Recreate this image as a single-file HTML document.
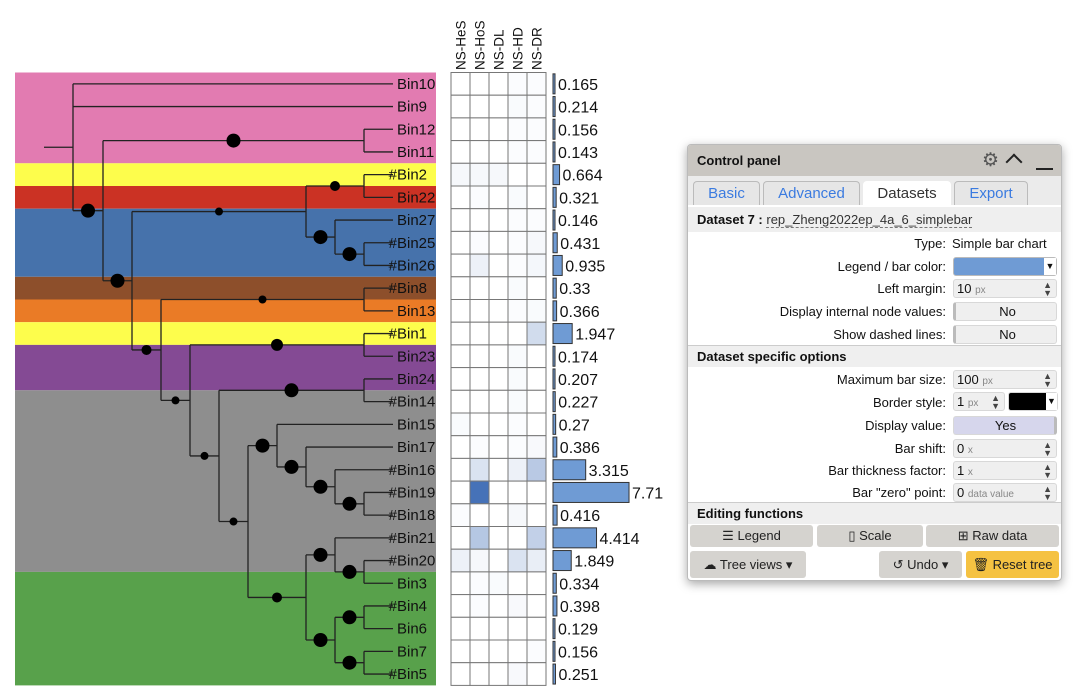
<!DOCTYPE html>
<html><head><meta charset="utf-8">
<style>
body{margin:0;width:1080px;height:696px;background:#fff;position:relative;overflow:hidden;font-family:"Liberation Sans",Arial,sans-serif}
#cp{position:absolute;left:687px;top:144px;width:373px;height:435px;background:#fff;border:1px solid #bbb;border-radius:4px;box-shadow:0 3px 10px rgba(0,0,0,.35);overflow:hidden;font-size:13px;color:#111}
.abs{position:absolute}
.lbl{position:absolute;right:115px;text-align:right;white-space:nowrap}
.ctl{position:absolute;left:265px;width:104px;height:19px;background:#efefef;border:1px solid #d8d8d8;border-radius:3px;box-sizing:border-box;font-size:13px;line-height:17px;padding-left:3px}
.unit{color:#888;font-size:10px}
.spin{position:absolute;right:4px;top:1px;font-size:9px;line-height:8px;color:#444}
.sec{position:absolute;left:0;width:373px;height:22px;background:#efefef;font-weight:bold;font-size:13px;line-height:22px;padding-left:9px;box-sizing:border-box;border-top:1px solid #ccc}
.tab{position:absolute;top:36px;height:24px;border:1px solid #bbb;border-bottom:none;border-radius:4px 4px 0 0;background:#e6e6e6;color:#3b7be0;font-size:15px;line-height:24px;text-align:center;box-sizing:border-box}
.btn{position:absolute;background:#d5d3cf;border-radius:3px;text-align:center;font-size:13px;line-height:22px;color:#222}
</style></head><body>
<svg id="chart" width="680" height="696" style="position:absolute;left:0;top:0" font-family="Liberation Sans, Arial, sans-serif"></svg>

<div id="cp">
 <div class="abs" style="left:0;top:0;width:373px;height:31px;background:#c9c6c1"></div>
 <div class="abs" style="left:9px;top:8px;font-weight:bold;font-size:13px">Control panel</div>
 <div class="abs" style="left:294px;top:4px;font-size:19px;color:#555">⚙</div>
 <div class="abs" style="left:320px;top:5px;width:10px;height:10px;border-left:2px solid #222;border-top:2px solid #222;transform:translateY(6px) rotate(45deg)"></div>
 <div class="abs" style="left:348px;top:23px;width:17px;height:2px;background:#222"></div>
 <div class="abs" style="left:0;top:31px;width:373px;height:29px;background:#ebebeb"></div>
 <div class="tab" style="left:5px;width:67px">Basic</div>
 <div class="tab" style="left:75px;width:97px">Advanced</div>
 <div class="tab" style="left:175px;width:88px;background:#fff;color:#333;border-color:#fff">Datasets</div>
 <div class="tab" style="left:266px;width:74px">Export</div>
 <div class="abs" style="left:0;top:62px;width:373px;height:25px;background:#efefef;line-height:25px;padding-left:9px;box-sizing:border-box"><b>Dataset 7 :</b> <span style="color:#333;border-bottom:1px dashed #777">rep_Zheng2022ep_4a_6_simplebar</span></div>
 <div class="lbl" style="top:91px">Type:</div>
 <div class="abs" style="left:264px;top:91px">Simple bar chart</div>
 <div class="lbl" style="top:114px">Legend / bar color:</div>
 <div class="ctl" style="top:112px;background:#6f9bd4;border-color:#bbb"><span style="position:absolute;right:0;top:0;width:12px;height:17px;background:#fff;font-size:9px;text-align:center">▼</span></div>
 <div class="lbl" style="top:136px">Left margin:</div>
 <div class="ctl" style="top:134px">10 <span class="unit">px</span><span class="spin">▲<br>▼</span></div>
 <div class="lbl" style="top:159px">Display internal node values:</div>
 <div class="ctl" style="top:157px;text-align:center;border-left:3px solid #bbb">No</div>
 <div class="lbl" style="top:182px">Show dashed lines:</div>
 <div class="ctl" style="top:180px;text-align:center;border-left:3px solid #bbb">No</div>
 <div class="sec" style="top:200px">Dataset specific options</div>
 <div class="lbl" style="top:227px">Maximum bar size:</div>
 <div class="ctl" style="top:225px">100 <span class="unit">px</span><span class="spin">▲<br>▼</span></div>
 <div class="lbl" style="top:250px">Border style:</div>
 <div class="ctl" style="top:247px;width:52px">1 <span class="unit">px</span><span class="spin">▲<br>▼</span></div>
 <div class="ctl" style="top:247px;left:320px;width:50px;background:#000"><span style="position:absolute;right:0;top:0;width:11px;height:17px;background:#fff;font-size:9px;text-align:center">▼</span></div>
 <div class="lbl" style="top:273px">Display value:</div>
 <div class="ctl" style="top:271px;text-align:center;background:#d6d6ec;border-right:3px solid #bbb">Yes</div>
 <div class="lbl" style="top:296px">Bar shift:</div>
 <div class="ctl" style="top:294px">0 <span class="unit">x</span><span class="spin">▲<br>▼</span></div>
 <div class="lbl" style="top:318px">Bar thickness factor:</div>
 <div class="ctl" style="top:316px">1 <span class="unit">x</span><span class="spin">▲<br>▼</span></div>
 <div class="lbl" style="top:340px">Bar "zero" point:</div>
 <div class="ctl" style="top:338px">0 <span class="unit">data value</span><span class="spin">▲<br>▼</span></div>
 <div class="sec" style="top:357px">Editing functions</div>
 <div class="btn" style="left:2px;top:380px;width:123px">☰ Legend</div>
 <div class="btn" style="left:129px;top:380px;width:106px">▯ Scale</div>
 <div class="btn" style="left:238px;top:380px;width:133px">⊞ Raw data</div>
 <div class="btn" style="left:2px;top:406px;width:116px;height:27px;line-height:27px">☁ Tree views ▾</div>
 <div class="btn" style="left:191px;top:406px;width:83px;height:27px;line-height:27px">↺ Undo ▾</div>
 <div class="btn" style="left:278px;top:406px;width:93px;height:27px;line-height:27px;background:#f5c242">🗑 Reset tree</div>
</div>

<script>
const leafNames=["Bin10","Bin9","Bin12","Bin11","Bin2","Bin22","Bin27","Bin25","Bin26","Bin8","Bin13","Bin1","Bin23","Bin24","Bin14","Bin15","Bin17","Bin16","Bin19","Bin18","Bin21","Bin20","Bin3","Bin4","Bin6","Bin7","Bin5"];
const leafHash=[0,0,0,0,1,0,0,1,1,1,0,1,0,0,1,0,0,1,1,1,1,1,0,1,0,0,1];
const barValues=[0.165,0.214,0.156,0.143,0.664,0.321,0.146,0.431,0.935,0.33,0.366,1.947,0.174,0.207,0.227,0.27,0.386,3.315,7.71,0.416,4.414,1.849,0.334,0.398,0.129,0.156,0.251];
const heatColumns=["NS-HeS","NS-HoS","NS-DL","NS-HD","NS-DR"];
const heatValues=[
[0,0,0,0.02,0.02],[0,0,0,0.03,0.02],[0,0,0,0.02,0.02],[0,0,0,0.02,0.02],
[0.05,0.05,0.05,0,0],[0,0.02,0,0.03,0],[0,0,0,0.02,0.02],[0,0.02,0,0.02,0.05],
[0,0.1,0,0.02,0.06],[0,0,0,0.03,0],[0,0,0,0.02,0.03],[0,0,0,0,0.25],
[0,0,0,0.03,0],[0,0,0,0.03,0],[0,0,0,0.03,0],[0.03,0,0,0.02,0],
[0,0.02,0,0.02,0.04],[0,0.2,0,0.1,0.38],[0,1,0,0,0],[0.02,0,0,0.05,0],
[0,0.4,0,0,0.33],[0.1,0.05,0,0.2,0.12],[0,0.02,0.03,0,0],[0,0.02,0,0.04,0],
[0,0,0,0,0],[0,0,0,0,0.02],[0,0,0,0.04,0]];
const bandColors=["#e27bb1","#fdfd4c","#cb3224","#4672ab","#8d4f2b","#ea7b26","#fdfd4c","#844a94","#8e8e8e","#58a14b"];
const bandEnds=[4,5,6,9,10,11,12,14,22,27];
// tree: depth in px units, support (circle radius), children (leaf index or node)
const tree={d:44,r:0,c:[{d:73,r:0,c:[0,1,{d:103,r:7,c:[
 {d:364,r:7,c:[2,3]},
 {d:132,r:7,c:[
  {d:306,r:4,c:[{d:364,r:5,c:[4,5]},{d:335,r:7,c:[6,{d:364,r:7,c:[7,8]}]}]},
  {d:161,r:5,c:[
   {d:364,r:4,c:[9,10]},
   {d:190,r:4,c:[
    {d:364,r:6,c:[11,12]},
    {d:219,r:4,c:[
     {d:364,r:7,c:[13,14]},
     {d:248,r:4,c:[
      {d:277,r:7,c:[15,{d:306,r:7,c:[16,{d:335,r:7,c:[17,{d:364,r:7,c:[18,19]}]}]}]},
      {d:306,r:5,c:[{d:335,r:7,c:[20,{d:364,r:7,c:[21,22]}]},{d:335,r:7,c:[{d:364,r:7,c:[23,24]},{d:364,r:7,c:[25,26]}]}]}
     ]}
    ]}
   ]}
  ]}
 ]}
]}]}]};

const svg=document.getElementById('chart');
const NS='http://www.w3.org/2000/svg';
const top0=72.5, rowH=22.7, tipX=393;
const rowY=i=>top0+rowH*(i+0.5);
const barX=v=>Math.max(2,v*9.86);
const heatColor=v=>{const a=[255,255,255],b=[70,114,184];return 'rgb('+a.map((x,k)=>Math.round(x+(b[k]-x)*v)).join(',')+')';};
function mk(t,at,parent){const e=document.createElementNS(NS,t);for(const k in at)e.setAttribute(k,at[k]);(parent||svg).appendChild(e);return e;}

// bands
let s=0;
bandColors.forEach((c,i)=>{
 const e=mk('rect',{x:15,y:top0+rowH*s,width:421,height:rowH*(bandEnds[i]-s),fill:c});
 
 
 s=bandEnds[i];
});
const tg=mk('g',{stroke:'#222','stroke-width':1.3,fill:'none'});


const dots=[];
function layout(n){
 if(typeof n==='number')return {y:rowY(n),x:tipX};
 const ch=n.c.map(layout);
 const y=(ch[0].y+ch[ch.length-1].y)/2;
 mk('line',{x1:n.d,x2:n.d,y1:ch[0].y,y2:ch[ch.length-1].y},tg);
 ch.forEach((c,i)=>{
  mk('line',{x1:n.d,x2:c.x,y1:c.y,y2:c.y},tg);
  const cn=n.c[i];
  if(typeof cn!=='number'&&cn.r>0)dots.push([(n.d+c.x)/2,c.y,cn.r]);
 });
 return {y:y,x:n.d};
}
const rootInfo=layout(tree.c[0]);
mk('line',{x1:tree.d,x2:tree.c[0].d,y1:rootInfo.y,y2:rootInfo.y},tg);
dots.forEach(d=>{
 const e=mk('circle',{cx:d[0],cy:d[1],r:d[2],fill:'#000'});
 
 
});
// labels
leafNames.forEach((n,i)=>{
 const t=mk('text',{x:397,y:rowY(i)+5,'font-size':15,fill:'#111'});
 t.textContent=n;
 
 
 if(leafHash[i]){const h=mk('text',{x:397,y:rowY(i)+5,'font-size':15,'text-anchor':'end',fill:'#111'});h.textContent='#';
  
  }
});
// heatmap
const hx0=451,cw=19;
heatColumns.forEach((c,j)=>{
 const cx=hx0+cw*(j+0.5)+5;
 const t=mk('text',{x:cx,y:70,'font-size':13.5,fill:'#111',transform:'rotate(-90 '+cx+' 70)'});
 t.textContent=c;
 
 
});
heatValues.forEach((row,i)=>row.forEach((v,j)=>{
 const e=mk('rect',{x:hx0+cw*j,y:top0+rowH*i,width:cw,height:rowH,fill:heatColor(v),stroke:'#777','stroke-width':1});
 
 
}));
// bars
const bx0=553;
barValues.forEach((v,i)=>{
 const w=barX(v);
 const e=mk('rect',{x:bx0,y:rowY(i)-10,width:w,height:20,fill:'#6f9bd4',stroke:'#333','stroke-width':1});
 
 
 const t=mk('text',{x:bx0+w+3,y:rowY(i)+6,'font-size':16,fill:'#111'});
 t.textContent=String(v);
 
 
});
</script>
</body></html>
